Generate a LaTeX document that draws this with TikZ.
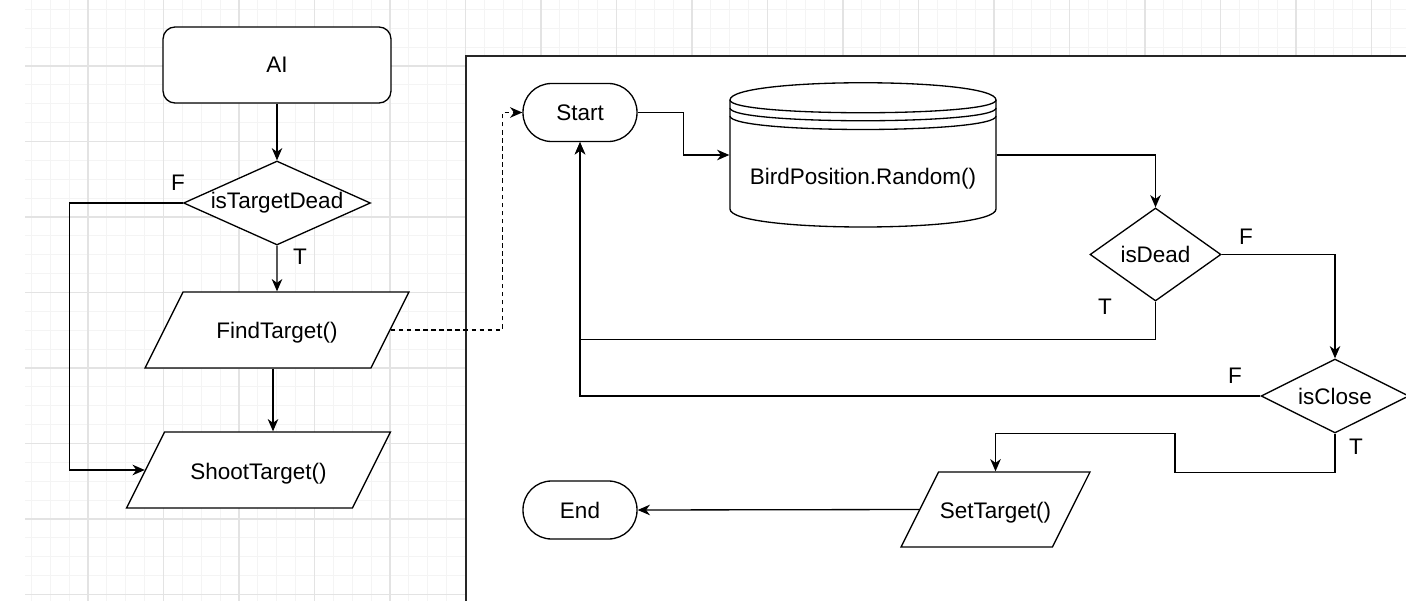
\documentclass[tikz,border=0pt]{standalone}
\usepackage{fontspec}
\setmainfont{Liberation Sans}
\usetikzlibrary{shapes.geometric}
\usetikzlibrary{arrows.meta}

\begin{document}
\begin{tikzpicture}
                [
                    x=0.02cm, y=-0.02cm, line width=0.75pt,
                    font=\fontsize{12.8}{15}\selectfont,
                    minorgrid/.style = {draw=gray!9, line width=0.6pt},
                    majorgrid/.style = {draw=gray!22, line width=0.6pt},
                    frame/.style = {draw=black!85, fill=white, line width=1.1pt},
                    startbox/.style = {rectangle, draw, fill=white, minimum width=4.56cm, minimum height=1.52cm, rounded corners=0.24cm},
                    terminal/.style = {rectangle, draw, fill=white, minimum width=2.28cm, minimum height=1.16cm, rounded corners=0.57cm},
                    decision/.style = {diamond, draw, fill=white, inner sep=0pt},
                    io/.style = {trapezium, trapezium left angle=63.4, trapezium right angle=116.6, trapezium stretches body, draw, fill=white, text height=0.43cm, text depth=0.07cm, inner xsep=0pt, inner ysep=0.51cm},
                    store/.style = {rectangle, minimum width=5.32cm, minimum height=2.88cm, text height=1.2cm, text depth=0pt},
                    lbl/.style = {inner sep=0pt},
                    arrow/.style = {-{Stealth[length=7pt, width=6pt, inset=2.2pt]}},
                    link/.style = {dash pattern=on 2.6pt off 2pt}
                ]

                % grid of the canvas
                \fill[white] (0,0) rectangle (1406,601);
                \useasboundingbox (0,0) rectangle (1406,601);
                \begin{scope}
                    \clip (25,0) rectangle (1406,601);
                    \foreach \k in {0,...,73} \draw[minorgrid] ({31.375+18.875*\k},0) -- ++(0,601);
                    \foreach \k in {0,...,31} \draw[minorgrid] (25,{9.375+18.875*\k}) -- ++(1381,0);
                    \foreach \k in {0,...,17} \draw[majorgrid] ({88+75.5*\k},0) -- ++(0,601);
                    \foreach \k in {0,...,7} \draw[majorgrid] (25,{66+75.5*\k}) -- ++(1381,0);
                \end{scope}
                \draw[frame] (466,56) rectangle (1440,640);

                % left flow
                \node (ai) [startbox] at (277,65) {AI};
                \node (tdead) [decision, aspect=2.2, minimum width=3.74cm, minimum height=1.68cm] at (277,203) {isTargetDead};
                \node (find) [io, minimum width=5.28cm] at (277,330) {FindTarget()};
                \node (shoot) [io, minimum width=5.28cm] at (258.5,470) {ShootTarget()};

                \draw[arrow] (ai.south) -- (tdead.north);
                \draw[arrow] (tdead.south) -- (find.north);
                \draw[arrow] ([xshift=-0.08cm]find.south) -- ([xshift=-0.08cm]find.south |- shoot.north);
                \draw[arrow] (tdead.west) -| ([xshift=-1.5cm]shoot.left side) -- (shoot.left side);

                \node (tdeadF) [lbl] at (178,183) {F};
                \node (tdeadT) [lbl] at (300,257) {T};

                % right flow
                \node (start) [terminal] at (580,112.5) {Start};
                \node (store) [store] at (863,155) {BirdPosition.Random()};
                \node (isdead) [decision, aspect=1.4, minimum width=2.62cm, minimum height=1.86cm] at (1155.5,254.5) {isDead};
                \node (isclose) [decision, aspect=2, minimum width=2.96cm, minimum height=1.48cm] at (1335,396) {isClose};
                \node (settarget) [io, inner ysep=0.5cm, minimum width=3.78cm] at (995.5,509.5) {SetTarget()};
                \node (end) [terminal] at (580,510) {End};

                \begin{scope}[shift={(store.center)}]
                    \draw (-133,-55) .. controls (-133,-78) and (133,-78) .. (133,-55);
                    \draw (-133,-55) .. controls (-133,-38) and (133,-38) .. (133,-55);
                    \draw (-133,-47) .. controls (-133,-30) and (133,-30) .. (133,-47);
                    \draw (-133,-39) .. controls (-133,-21) and (133,-21) .. (133,-39);
                    \draw (-133,-55) -- (-133,54) .. controls (-133,78) and (133,78) .. (133,54) -- (133,-55);
                \end{scope}

                \draw[arrow, link] (find.right side) -| ([xshift=-0.4cm]start.west) -- (start.west);
                \draw[arrow] (start.east) -- ++(46,0) |- (store.west);
                \draw[arrow] (store.east) -| (isdead.north);
                \draw[arrow] (isdead.east) -| (isclose.north);
                \draw[arrow] (isdead.south) -- ++(0,38) -| (start.south);
                \draw[arrow] (isclose.west) -| (start.south);
                \draw[arrow] (isclose.south) -- ++(0,39) -- ++(-160,0) -- ++(0,-39) -| (settarget.north);
                \draw[arrow] (settarget.left side) -- (end.east);

                \node (isdeadF) [lbl] at (1246,237) {F};
                \node (isdeadT) [lbl] at (1105,307) {T};
                \node (iscloseF) [lbl] at (1235,376) {F};
                \node (iscloseT) [lbl] at (1356,447) {T};

            \end{tikzpicture}
\end{document}
